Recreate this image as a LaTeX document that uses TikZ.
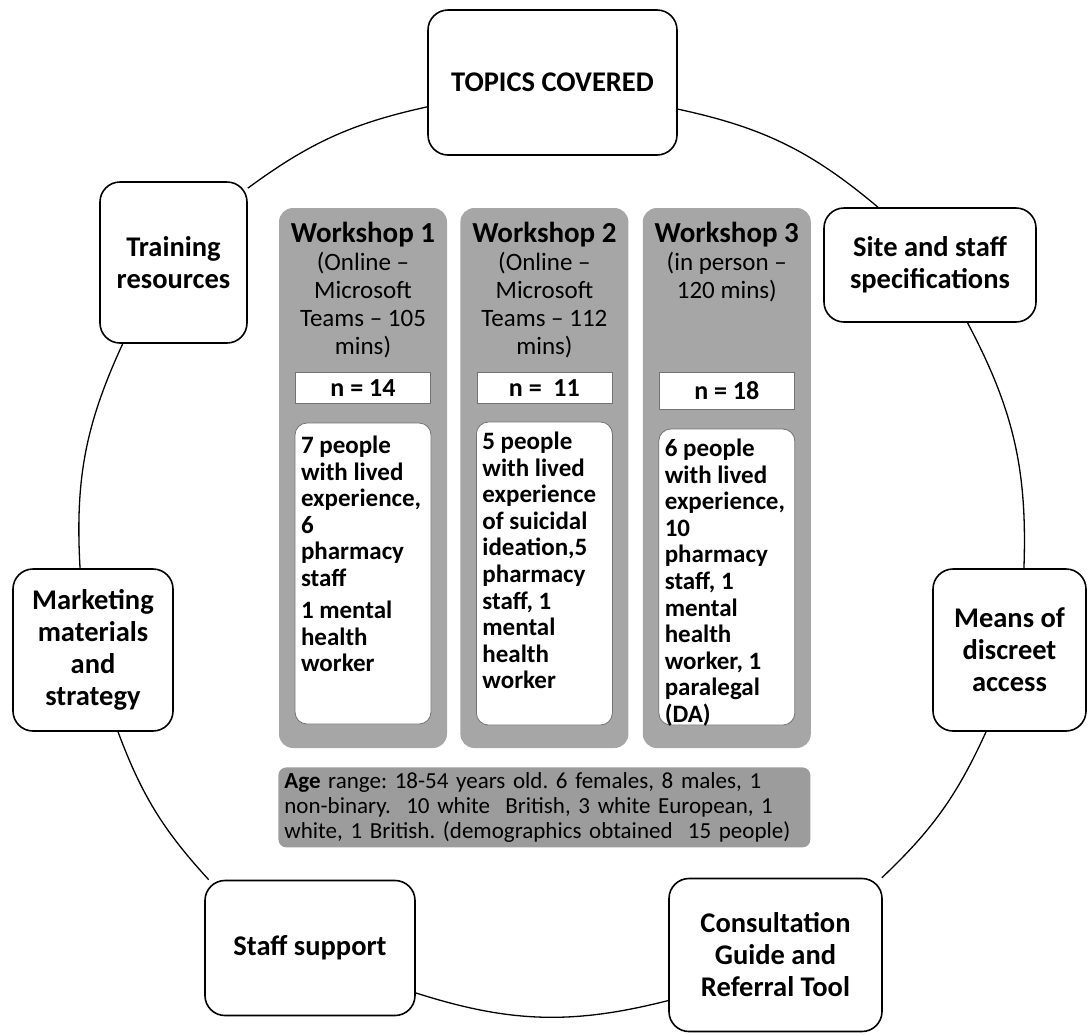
\documentclass[tikz,border=0pt]{standalone}
\usepackage{fontspec}
\setmainfont{Carlito}
\usetikzlibrary{positioning}
\definecolor{panelgray}{gray}{0.65}
\definecolor{demogray}{gray}{0.61}
\newcommand{\listpar}[2]{\begin{minipage}[t][#1][t]{124pt}\raggedright #2\end{minipage}}
\tikzset{
    topic/.style={
           rectangle,
           rounded corners=20pt,
           draw=black, line width=1.6pt,
           fill=white,
           inner sep=2pt,
           align=center,
           font=\bfseries\fontsize{28.5}{32}\selectfont,
           },
    panel/.style={
           rectangle,
           rounded corners=14pt,
           fill=panelgray,
           minimum width=168pt,
           minimum height=540pt,
           },
    header/.style={
           align=center,
           inner sep=0pt,
           font=\fontsize{25}{28}\selectfont,
           },
    countbox/.style={
           rectangle,
           draw=black!55, line width=0.8pt,
           fill=white,
           minimum width=135pt,
           inner sep=0pt,
           font=\bfseries\fontsize{26}{28}\selectfont,
           },
    listbox/.style={
           rectangle,
           rounded corners=12pt,
           draw=black!55, line width=0.8pt,
           fill=white,
           minimum width=135pt,
           inner xsep=6pt, inner ysep=10pt,
           font=\bfseries\fontsize{25}{26.6}\selectfont,
           },
    ring/.style={-, line width=1.3pt},
}
\begin{document}
\frenchspacing
\begin{tikzpicture}[x=1pt,y=1pt]
	\useasboundingbox (0,0) rectangle (1087,-1034);

	%outer cycle
	\node[topic, minimum width=249pt, minimum height=145pt] (topics) at (552.5,-82.5) {TOPICS COVERED};
	\node[topic, minimum width=147pt, minimum height=161pt] (training) at (173.5,-262.5) {Training\\resources};
	\node[topic, minimum width=212pt, minimum height=114pt] (site) at (930,-265) {Site and staff\\specifications};
	\node[topic, minimum width=160pt, minimum height=162pt] (marketing) at (93,-650) {Marketing\\materials\\and\\strategy};
	\node[topic, minimum width=153pt, minimum height=162pt] (means) at (1009.5,-650) {Means of\\discreet\\access};
	\node[topic, minimum width=210pt, minimum height=135pt] (staff) at (310,-948) {Staff support};
	\node[topic, minimum width=213pt, minimum height=153pt] (consult) at (775.5,-955) {Consultation\\Guide and\\Referral Tool};

	%workshop columns
	\node[panel] (w1) at (363,-478) {};
	\node[panel, right=13pt of w1] (w2) {};
	\node[panel, right=14pt of w2] (w3) {};

	\node[header, below=14pt of w1.north] (h1) {{\bfseries\fontsize{29}{30}\selectfont Workshop 1}\\(Online --\\Microsoft\\Teams -- 105\\mins)};
	\node[header, below=14pt of w2.north] (h2) {{\bfseries\fontsize{29}{30}\selectfont Workshop 2}\\(Online --\\Microsoft\\Teams -- 112\\mins)};
	\node[header, below=14pt of w3.north] (h3) {{\bfseries\fontsize{29}{30}\selectfont Workshop 3}\\(in person --\\120 mins)};

	\node[countbox, minimum height=31pt, below=164pt of w1.north] (n1) {n = 14};
	\node[countbox, minimum height=31pt, below=164pt of w2.north] (n2) {n = \ 11};
	\node[countbox, minimum height=37pt, below=164pt of w3.north] (n3) {n = 18};

	\node[listbox, minimum height=301pt, below=19pt of n1] (p1) {\listpar{281pt}{\vspace*{3pt}7 people\\with lived\\experience,\\6\\pharmacy\\staff\\[5.5pt]1 mental\\health\\worker}};
	\node[listbox, minimum height=303pt, below=18pt of n2] (p2) {\listpar{283pt}{5 people\\with lived\\experience\\of suicidal\\ideation,5\\pharmacy\\staff, 1\\mental\\health\\worker}};
	\node[listbox, minimum height=296pt, below=19pt of n3] (p3) {\listpar{276pt}{6 people\\with lived\\experience,\\10\\pharmacy\\staff, 1\\mental\\health\\worker, 1\\paralegal\\(DA)}};

	\node[rectangle, rounded corners=8pt, fill=demogray, minimum width=532pt, minimum height=80pt,
	      text width=520pt, align=left, font=\fontsize{23}{25}\selectfont, below=19pt of w2] (demo)
	      {\textbf{Age} range: 18-54 years old. 6 females, 8 males, 1\\non-binary.\ \ 10 white\ \ British, 3 white European, 1\\white, 1 British. (demographics obtained\ \ 15 people)};

	%EDGES
	\path[ring]	(topics.191) edge[bend right=12] (training.45)
				(training.238) edge[bend right=14] (marketing.99)
				(marketing.287) edge[bend right=11] (staff.146)
				(staff.-23) edge[bend right=16] (consult.203)
				(consult.36) edge[bend right=11] (means.254)
				(means.80) edge[bend right=15] (site.303)
				(site.132) edge[bend right=14] (topics.348);

\end{tikzpicture}
\end{document}
